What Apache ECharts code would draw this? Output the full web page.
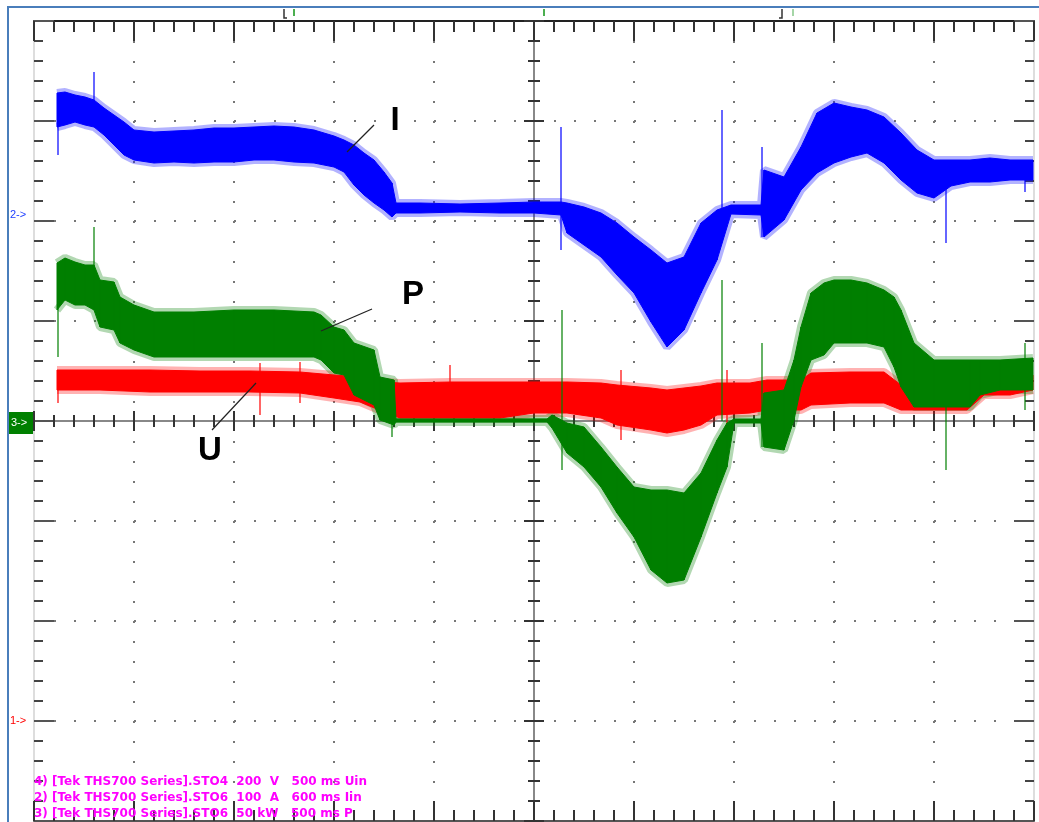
<!DOCTYPE html>
<html>
<head>
<meta charset="utf-8">
<script src="https://cdn.jsdelivr.net/npm/echarts@6/dist/echarts.min.js"></script>
<style>
  html, body { margin: 0; padding: 0; background: #fff; }
  #chart { width: 1039px; height: 822px; }
</style>
</head>
<body>
<div id="chart"></div>
<script>
// Zeitachse in Divisionen (500 ms/div), Amplituden in Divisionen des Schirms

// Kanal 2: Strom I (blau) – obere / untere Hüllkurve
const timeI = [0.23, 0.31, 0.41, 0.51, 0.60, 0.70, 0.80, 0.90, 1.00, 1.20, 1.40, 1.60, 1.80, 2.00, 2.20, 2.40, 2.60, 2.80, 3.00, 3.10, 3.20, 3.30, 3.40, 3.50, 3.58, 3.62, 3.86, 4.26, 4.66, 5.00, 5.27, 5.33, 5.50, 5.67, 5.83, 6.00, 6.17, 6.33, 6.50, 6.67, 6.83, 6.97, 7.27, 7.30, 7.50, 7.67, 7.83, 8.00, 8.17, 8.33, 8.50, 8.67, 8.83, 9.00, 9.17, 9.36, 9.56, 9.76, 9.99];
const iUpper = [3.28, 3.29, 3.26, 3.24, 3.21, 3.13, 3.06, 2.99, 2.91, 2.89, 2.90, 2.91, 2.93, 2.93, 2.94, 2.95, 2.94, 2.91, 2.85, 2.81, 2.76, 2.68, 2.61, 2.49, 2.38, 2.18, 2.18, 2.17, 2.18, 2.19, 2.19, 2.18, 2.14, 2.08, 1.98, 1.84, 1.71, 1.58, 1.64, 1.98, 2.11, 2.16, 2.16, 2.51, 2.44, 2.74, 3.08, 3.18, 3.14, 3.11, 3.04, 2.88, 2.71, 2.61, 2.61, 2.61, 2.63, 2.61, 2.61];
const iLower = [2.94, 2.96, 2.99, 2.96, 2.94, 2.86, 2.76, 2.66, 2.61, 2.58, 2.59, 2.58, 2.59, 2.59, 2.61, 2.61, 2.59, 2.58, 2.54, 2.49, 2.36, 2.26, 2.18, 2.11, 2.04, 2.08, 2.08, 2.09, 2.08, 2.08, 2.06, 1.88, 1.76, 1.64, 1.46, 1.28, 0.99, 0.74, 0.91, 1.28, 1.61, 2.07, 2.06, 1.84, 2.01, 2.31, 2.48, 2.58, 2.64, 2.68, 2.58, 2.41, 2.28, 2.23, 2.35, 2.39, 2.39, 2.41, 2.41];
// einzelne Spitzen: [t, oben, unten]
const iSpikes = [[0.24, 3.28, 2.66], [0.60, 3.49, 3.00], [5.27, 2.94, 1.71], [6.88, 3.11, 2.11], [7.28, 2.74, 1.84], [9.12, 2.61, 1.78], [9.91, 2.61, 2.29]];

// Kanal 3: Leistung P (grün)
const timeP = [0.23, 0.31, 0.41, 0.51, 0.60, 0.66, 0.80, 0.86, 1.00, 1.20, 1.60, 2.00, 2.40, 2.80, 2.87, 3.00, 3.10, 3.20, 3.40, 3.46, 3.60, 3.62, 5.13, 5.18, 5.33, 5.50, 5.67, 5.83, 6.00, 6.17, 6.33, 6.50, 6.67, 6.83, 6.93, 7.00, 7.27, 7.30, 7.50, 7.60, 7.67, 7.77, 7.90, 8.00, 8.17, 8.33, 8.50, 8.60, 8.67, 8.80, 9.00, 9.36, 9.46, 9.66, 9.99];
const pUpper = [1.58, 1.63, 1.59, 1.56, 1.56, 1.41, 1.39, 1.24, 1.16, 1.09, 1.09, 1.11, 1.11, 1.09, 1.06, 0.94, 0.91, 0.78, 0.71, 0.44, 0.41, 0.02, 0.02, 0.06, -0.02, -0.06, -0.26, -0.46, -0.66, -0.69, -0.69, -0.72, -0.52, -0.19, -0.02, 0.02, 0.02, 0.28, 0.31, 0.61, 0.94, 1.28, 1.38, 1.41, 1.41, 1.38, 1.31, 1.24, 1.11, 0.78, 0.61, 0.61, 0.61, 0.61, 0.63];
const pLower = [1.11, 1.21, 1.16, 1.16, 1.11, 0.94, 0.91, 0.78, 0.71, 0.64, 0.64, 0.64, 0.64, 0.64, 0.61, 0.48, 0.46, 0.26, 0.16, 0.01, -0.04, -0.01, -0.01, -0.07, -0.32, -0.46, -0.66, -0.92, -1.16, -1.49, -1.62, -1.59, -1.16, -0.72, -0.46, -0.02, -0.02, -0.26, -0.29, 0.01, 0.34, 0.61, 0.66, 0.78, 0.78, 0.78, 0.74, 0.54, 0.34, 0.14, 0.14, 0.14, 0.26, 0.31, 0.31];
const pSpikes = [[0.24, 1.58, 0.64], [0.60, 1.94, 1.56], [3.58, 0.21, -0.16], [5.28, 1.11, -0.49], [6.88, 1.41, 0.00], [7.28, 0.78, -0.26], [9.12, 0.61, -0.49], [9.91, 0.78, 0.11]];

// Kanal 4: Spannung U (rot)
const timeU = [0.23, 0.66, 1.16, 1.66, 2.16, 2.66, 3.00, 3.26, 3.50, 3.66, 4.16, 4.66, 5.00, 5.33, 5.67, 5.83, 6.17, 6.33, 6.50, 6.67, 6.83, 7.16, 7.33, 7.67, 7.77, 8.16, 8.50, 8.67, 9.00, 9.33, 9.50, 9.76, 9.99];
const uUpper = [0.51, 0.51, 0.51, 0.50, 0.50, 0.49, 0.46, 0.44, 0.39, 0.38, 0.39, 0.39, 0.39, 0.39, 0.38, 0.36, 0.33, 0.31, 0.33, 0.35, 0.38, 0.38, 0.41, 0.41, 0.48, 0.49, 0.49, 0.36, 0.34, 0.34, 0.41, 0.43, 0.46];
const uLower = [0.31, 0.31, 0.29, 0.29, 0.29, 0.28, 0.23, 0.19, 0.09, 0.03, 0.03, 0.03, 0.08, 0.08, 0.03, -0.04, -0.09, -0.12, -0.09, -0.04, 0.06, 0.08, 0.11, 0.11, 0.16, 0.18, 0.18, 0.11, 0.11, 0.11, 0.26, 0.26, 0.31];
const uSpikes = [[0.24, 0.51, 0.18], [2.26, 0.58, 0.06], [2.66, 0.59, 0.18], [4.16, 0.56, 0.06], [5.87, 0.51, -0.19], [6.93, 0.51, -0.11]];

// Kanalbeschriftung unten links
const infoLines = [
  '4) [Tek THS700 Series].STO4  200  V   500 ms Uin',
  '2) [Tek THS700 Series].STO6  100  A   600 ms Iin',
  '3) [Tek THS700 Series].STO6  50 kW   500 ms P'
];

const BLUE = '#0000ff';
const GREEN = '#007f00';
const RED = '#ff0000';

// Hüllkurve in Trapez-Segmente zerlegen
function toSegments(xs, hi, lo) {
  const out = [];
  for (let i = 0; i < xs.length - 1; i++) {
    out.push([xs[i], hi[i], lo[i], xs[i + 1], hi[i + 1], lo[i + 1]]);
  }
  return out;
}

function bandSeries(name, xs, hi, lo, color) {
  return {
    name: name,
    type: 'custom',
    xAxisIndex: 0,
    yAxisIndex: 0,
    z: 2,
    data: toSegments(xs, hi, lo),
    encode: { x: [0, 3], y: [1, 2, 4, 5] },
    renderItem: function (params, api) {
      const a = api.coord([api.value(0), api.value(1)]);
      const b = api.coord([api.value(3), api.value(4)]);
      const c = api.coord([api.value(3), api.value(5)]);
      const d = api.coord([api.value(0), api.value(2)]);
      return {
        type: 'polygon',
        shape: { points: [a, b, c, d] },
        style: { fill: color, stroke: color, lineWidth: 1 }
      };
    },
    silent: true
  };
}

// Rauschsaum entlang der Hüllkurve (heller, breiter Strich unter dem Band)
function haloSeries(name, xs, ys, color) {
  return {
    name: name,
    type: 'line',
    xAxisIndex: 0,
    yAxisIndex: 0,
    z: 1,
    data: xs.map(function (t, i) { return [t, ys[i]]; }),
    showSymbol: false,
    lineStyle: { color: color, width: 8, opacity: 0.3 },
    silent: true
  };
}

function spikeSeries(name, spikes, color) {
  return {
    name: name,
    type: 'custom',
    xAxisIndex: 0,
    yAxisIndex: 0,
    z: 2,
    data: spikes,
    encode: { x: 0, y: [1, 2] },
    renderItem: function (params, api) {
      const p1 = api.coord([api.value(0), api.value(1)]);
      const p2 = api.coord([api.value(0), api.value(2)]);
      return {
        type: 'line',
        shape: { x1: p1[0], y1: p1[1], x2: p2[0], y2: p2[1] },
        style: { stroke: color, lineWidth: 1.5, opacity: 0.8 }
      };
    },
    silent: true
  };
}

const dotted = { show: true, lineStyle: { color: '#777', width: 2, type: [2, 18] } };

function xEdge(position, lineColor, split) {
  return {
    type: 'value', min: 0, max: 10, interval: 1, position: position,
    axisLine: { show: true, onZero: false, lineStyle: { color: lineColor, width: 2 } },
    axisTick: { show: true, inside: true, length: 20, lineStyle: { color: '#333', width: 2 } },
    minorTick: { show: true, splitNumber: 5, length: 11, lineStyle: { color: '#333', width: 2 } },
    axisLabel: { show: false },
    splitLine: split ? dotted : { show: false }
  };
}

function yEdge(position, lineColor, split) {
  return {
    type: 'value', min: -4, max: 4, interval: 1, position: position,
    axisLine: { show: true, onZero: false, lineStyle: { color: lineColor, width: 2 } },
    axisTick: { show: true, inside: true, length: 20, lineStyle: { color: '#555', width: 2 } },
    minorTick: { show: true, splitNumber: 5, length: 9, lineStyle: { color: '#444', width: 2 } },
    axisLabel: { show: false },
    splitLine: split ? dotted : { show: false }
  };
}

// Mittelachsen mit Strichen nach beiden Seiten
function xCenter(inside, showLine) {
  return {
    type: 'value', min: 0, max: 10, interval: 1, position: 'bottom', offset: -400,
    axisLine: { show: showLine, onZero: false, lineStyle: { color: '#888', width: 2 } },
    axisTick: { show: true, inside: inside, length: 10, lineStyle: { color: '#333', width: 2 } },
    minorTick: { show: true, splitNumber: 5, length: 6, lineStyle: { color: '#333', width: 2 } },
    axisLabel: { show: false },
    splitLine: { show: false }
  };
}

function yCenter(inside, showLine) {
  return {
    type: 'value', min: -4, max: 4, interval: 1, position: 'left', offset: -500,
    axisLine: { show: showLine, onZero: false, lineStyle: { color: '#888', width: 2 } },
    axisTick: { show: true, inside: inside, length: 10, lineStyle: { color: '#333', width: 2 } },
    minorTick: { show: true, splitNumber: 5, length: 6, lineStyle: { color: '#333', width: 2 } },
    axisLabel: { show: false },
    splitLine: { show: false }
  };
}

const chart = echarts.init(document.getElementById('chart'));

const graphics = [
  // äußerer Rahmen
  { type: 'rect', shape: { x: 8, y: 7, width: 1100, height: 900 }, style: { fill: 'none', stroke: '#4a7ebb', lineWidth: 2 }, z: 100 },
  // Cursor-Markierungen oben
  { type: 'polyline', shape: { points: [[284, 9], [284, 18], [287, 18]] }, style: { stroke: '#333', lineWidth: 1.5, fill: 'none' } },
  { type: 'line', shape: { x1: 294, y1: 9, x2: 294, y2: 16 }, style: { stroke: '#4caf50', lineWidth: 2 } },
  { type: 'line', shape: { x1: 544, y1: 9, x2: 544, y2: 16 }, style: { stroke: '#4caf50', lineWidth: 2 } },
  { type: 'polyline', shape: { points: [[782, 9], [782, 18], [779, 18]] }, style: { stroke: '#333', lineWidth: 1.5, fill: 'none' } },
  { type: 'line', shape: { x1: 793, y1: 9, x2: 793, y2: 16 }, style: { stroke: '#a5d6a7', lineWidth: 2 } },
  // Kanalmarker links
  { type: 'text', x: 10, y: 215, style: { text: '2->', fill: '#2040ff', font: '11px "Liberation Sans", Arial', verticalAlign: 'middle' } },
  { type: 'rect', shape: { x: 8, y: 412, width: 27, height: 22 }, style: { fill: '#008000' } },
  { type: 'text', x: 11, y: 423, style: { text: '3->', fill: '#fff', font: '11px "Liberation Sans", Arial', verticalAlign: 'middle' } },
  { type: 'text', x: 10, y: 721, style: { text: '1->', fill: RED, font: '11px "Liberation Sans", Arial', verticalAlign: 'middle' } },
  // Kurvenbezeichnungen mit Hinweislinien
  { type: 'line', shape: { x1: 374, y1: 125, x2: 347, y2: 152 }, style: { stroke: '#222', lineWidth: 1.2 }, z: 50 },
  { type: 'text', x: 395, y: 121, style: { text: 'I', fill: '#000', font: 'bold 33px "Liberation Sans", Arial', align: 'center', verticalAlign: 'middle' }, z: 50 },
  { type: 'line', shape: { x1: 372, y1: 309, x2: 321, y2: 331 }, style: { stroke: '#222', lineWidth: 1.2 }, z: 50 },
  { type: 'text', x: 413, y: 295, style: { text: 'P', fill: '#000', font: 'bold 33px "Liberation Sans", Arial', align: 'center', verticalAlign: 'middle' }, z: 50 },
  { type: 'line', shape: { x1: 212, y1: 430, x2: 256, y2: 383 }, style: { stroke: '#222', lineWidth: 1.2 }, z: 50 },
  { type: 'text', x: 210, y: 451, style: { text: 'U', fill: '#000', font: 'bold 33px "Liberation Sans", Arial', align: 'center', verticalAlign: 'middle' }, z: 50 }
];

infoLines.forEach(function (line, i) {
  graphics.push({
    type: 'text', x: 34, y: 782 + i * 16,
    style: { text: line, fill: '#ff00ff', font: 'bold 12px "DejaVu Sans"', verticalAlign: 'middle' },
    z: 60
  });
});

const option = {
  animation: false,
  backgroundColor: '#fff',
  grid: { left: 34, top: 21, right: 5, bottom: 1, containLabel: false },
  xAxis: [
    xEdge('bottom', '#555', true),
    xEdge('top', '#222', false),
    xCenter(true, true),
    xCenter(false, false)
  ],
  yAxis: [
    yEdge('left', '#ddd', true),
    yEdge('right', '#ddd', false),
    yCenter(true, true),
    yCenter(false, false)
  ],
  graphic: graphics,
  series: [
    // zuerst alle Säume, danach die Bänder darüber
    haloSeries('U oben', timeU, uUpper, RED),
    haloSeries('U unten', timeU, uLower, RED),
    haloSeries('P oben', timeP, pUpper, GREEN),
    haloSeries('P unten', timeP, pLower, GREEN),
    haloSeries('I oben', timeI, iUpper, BLUE),
    haloSeries('I unten', timeI, iLower, BLUE),
    bandSeries('U', timeU, uUpper, uLower, RED),
    spikeSeries('U Spitzen', uSpikes, RED),
    bandSeries('P', timeP, pUpper, pLower, GREEN),
    spikeSeries('P Spitzen', pSpikes, GREEN),
    bandSeries('I', timeI, iUpper, iLower, BLUE),
    spikeSeries('I Spitzen', iSpikes, BLUE)
  ]
};

chart.setOption(option);
</script>
</body>
</html>
